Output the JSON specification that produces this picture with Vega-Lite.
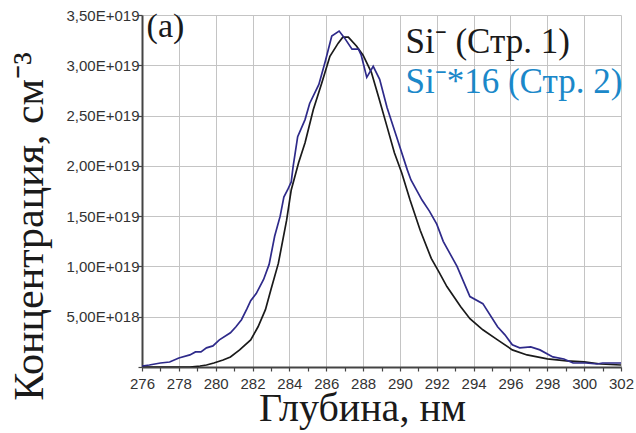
{
  "$schema": "https://vega.github.io/schema/vega-lite/v6.json",
  "autosize": "none",
  "width": 479,
  "height": 352,
  "padding": {"left": 142, "top": 15, "right": 15, "bottom": 66},
  "background": "white",
  "config": {
    "view": {"stroke": null},
    "axisX": {
      "labelFont": "Liberation Sans", "labelFontSize": 15, "labelColor": "#333333",
      "labelPadding": 5, "labelFlush": false, "labelOverlap": false,
      "tickSize": 4, "tickColor": "#444444", "tickWidth": 1.2,
      "domainColor": "#444444", "domainWidth": 2,
      "gridColor": "#c4c4c4", "gridWidth": 1,
      "titleFont": "Liberation Serif", "titleFontSize": 40, "titleFontWeight": "normal", "titleColor": "#1a1a1a"
    },
    "axisY": {
      "labelFont": "Liberation Sans", "labelFontSize": 15, "labelColor": "#333333",
      "labelPadding": -1, "labelFlush": false, "labelOverlap": false,
      "tickSize": 4, "tickColor": "#444444", "tickWidth": 1.2,
      "domainColor": "#444444", "domainWidth": 2,
      "gridColor": "#c4c4c4", "gridWidth": 1,
      "titleFont": "Liberation Serif", "titleFontSize": 42, "titleFontWeight": "normal", "titleColor": "#1a1a1a"
    }
  },
  "datasets": {
    "profiles": [
      {"depth": 276.0, "conc": 0.0, "series": "Стр. 1"},
      {"depth": 277.0, "conc": 0.0, "series": "Стр. 1"},
      {"depth": 278.0, "conc": 0.0, "series": "Стр. 1"},
      {"depth": 278.6, "conc": 0.0, "series": "Стр. 1"},
      {"depth": 279.15, "conc": 1e17, "series": "Стр. 1"},
      {"depth": 279.5, "conc": 2e17, "series": "Стр. 1"},
      {"depth": 279.9, "conc": 4e17, "series": "Стр. 1"},
      {"depth": 280.4, "conc": 7e17, "series": "Стр. 1"},
      {"depth": 280.8, "conc": 1.0e18, "series": "Стр. 1"},
      {"depth": 281.3, "conc": 1.7e18, "series": "Стр. 1"},
      {"depth": 281.9, "conc": 2.7e18, "series": "Стр. 1"},
      {"depth": 282.3, "conc": 4.0e18, "series": "Стр. 1"},
      {"depth": 282.7, "conc": 5.7e18, "series": "Стр. 1"},
      {"depth": 283.0, "conc": 7.7e18, "series": "Стр. 1"},
      {"depth": 283.4, "conc": 1.03e19, "series": "Стр. 1"},
      {"depth": 283.85, "conc": 1.46e19, "series": "Стр. 1"},
      {"depth": 284.1, "conc": 1.76e19, "series": "Стр. 1"},
      {"depth": 284.5, "conc": 2.03e19, "series": "Стр. 1"},
      {"depth": 284.85, "conc": 2.23e19, "series": "Стр. 1"},
      {"depth": 285.3, "conc": 2.56e19, "series": "Стр. 1"},
      {"depth": 285.75, "conc": 2.82e19, "series": "Стр. 1"},
      {"depth": 286.2, "conc": 3.09e19, "series": "Стр. 1"},
      {"depth": 286.65, "conc": 3.22e19, "series": "Стр. 1"},
      {"depth": 286.9, "conc": 3.28e19, "series": "Стр. 1"},
      {"depth": 287.2, "conc": 3.28e19, "series": "Стр. 1"},
      {"depth": 287.65, "conc": 3.19e19, "series": "Стр. 1"},
      {"depth": 288.0, "conc": 3.1e19, "series": "Стр. 1"},
      {"depth": 288.45, "conc": 2.93e19, "series": "Стр. 1"},
      {"depth": 288.85, "conc": 2.68e19, "series": "Стр. 1"},
      {"depth": 289.3, "conc": 2.39e19, "series": "Стр. 1"},
      {"depth": 289.7, "conc": 2.13e19, "series": "Стр. 1"},
      {"depth": 290.1, "conc": 1.93e19, "series": "Стр. 1"},
      {"depth": 290.55, "conc": 1.66e19, "series": "Стр. 1"},
      {"depth": 291.1, "conc": 1.36e19, "series": "Стр. 1"},
      {"depth": 291.7, "conc": 1.08e19, "series": "Стр. 1"},
      {"depth": 292.1, "conc": 9.5e18, "series": "Стр. 1"},
      {"depth": 292.55, "conc": 8.0e18, "series": "Стр. 1"},
      {"depth": 293.3, "conc": 6.0e18, "series": "Стр. 1"},
      {"depth": 293.8, "conc": 4.8e18, "series": "Стр. 1"},
      {"depth": 294.5, "conc": 3.7e18, "series": "Стр. 1"},
      {"depth": 295.3, "conc": 2.7e18, "series": "Стр. 1"},
      {"depth": 296.1, "conc": 1.7e18, "series": "Стр. 1"},
      {"depth": 296.9, "conc": 1.2e18, "series": "Стр. 1"},
      {"depth": 298.0, "conc": 8e17, "series": "Стр. 1"},
      {"depth": 299.05, "conc": 6e17, "series": "Стр. 1"},
      {"depth": 300.0, "conc": 5e17, "series": "Стр. 1"},
      {"depth": 300.9, "conc": 3e17, "series": "Стр. 1"},
      {"depth": 302.0, "conc": 2e17, "series": "Стр. 1"},

      {"depth": 276.0, "conc": 1e17, "series": "Стр. 2"},
      {"depth": 276.4, "conc": 2e17, "series": "Стр. 2"},
      {"depth": 277.0, "conc": 4e17, "series": "Стр. 2"},
      {"depth": 277.5, "conc": 5e17, "series": "Стр. 2"},
      {"depth": 278.0, "conc": 9e17, "series": "Стр. 2"},
      {"depth": 278.6, "conc": 1.2e18, "series": "Стр. 2"},
      {"depth": 278.9, "conc": 1.5e18, "series": "Стр. 2"},
      {"depth": 279.2, "conc": 1.5e18, "series": "Стр. 2"},
      {"depth": 279.5, "conc": 1.9e18, "series": "Стр. 2"},
      {"depth": 279.85, "conc": 2.1e18, "series": "Стр. 2"},
      {"depth": 280.2, "conc": 2.7e18, "series": "Стр. 2"},
      {"depth": 280.8, "conc": 3.4e18, "series": "Стр. 2"},
      {"depth": 281.1, "conc": 4.0e18, "series": "Стр. 2"},
      {"depth": 281.4, "conc": 4.7e18, "series": "Стр. 2"},
      {"depth": 281.7, "conc": 5.8e18, "series": "Стр. 2"},
      {"depth": 281.9, "conc": 6.6e18, "series": "Стр. 2"},
      {"depth": 282.2, "conc": 7.3e18, "series": "Стр. 2"},
      {"depth": 282.6, "conc": 8.7e18, "series": "Стр. 2"},
      {"depth": 282.9, "conc": 1.02e19, "series": "Стр. 2"},
      {"depth": 283.2, "conc": 1.3e19, "series": "Стр. 2"},
      {"depth": 283.5, "conc": 1.5e19, "series": "Стр. 2"},
      {"depth": 283.7, "conc": 1.69e19, "series": "Стр. 2"},
      {"depth": 283.9, "conc": 1.76e19, "series": "Стр. 2"},
      {"depth": 284.1, "conc": 1.84e19, "series": "Стр. 2"},
      {"depth": 284.2, "conc": 1.99e19, "series": "Стр. 2"},
      {"depth": 284.45, "conc": 2.29e19, "series": "Стр. 2"},
      {"depth": 284.85, "conc": 2.46e19, "series": "Стр. 2"},
      {"depth": 285.1, "conc": 2.62e19, "series": "Стр. 2"},
      {"depth": 285.6, "conc": 2.81e19, "series": "Стр. 2"},
      {"depth": 285.95, "conc": 3.04e19, "series": "Стр. 2"},
      {"depth": 286.3, "conc": 3.29e19, "series": "Стр. 2"},
      {"depth": 286.7, "conc": 3.34e19, "series": "Стр. 2"},
      {"depth": 287.0, "conc": 3.27e19, "series": "Стр. 2"},
      {"depth": 287.4, "conc": 3.16e19, "series": "Стр. 2"},
      {"depth": 287.75, "conc": 3.16e19, "series": "Стр. 2"},
      {"depth": 287.9, "conc": 3.1e19, "series": "Стр. 2"},
      {"depth": 288.2, "conc": 2.88e19, "series": "Стр. 2"},
      {"depth": 288.55, "conc": 2.99e19, "series": "Стр. 2"},
      {"depth": 288.9, "conc": 2.86e19, "series": "Стр. 2"},
      {"depth": 289.3, "conc": 2.58e19, "series": "Стр. 2"},
      {"depth": 289.8, "conc": 2.3e19, "series": "Стр. 2"},
      {"depth": 290.4, "conc": 1.96e19, "series": "Стр. 2"},
      {"depth": 290.6, "conc": 1.86e19, "series": "Стр. 2"},
      {"depth": 291.2, "conc": 1.66e19, "series": "Стр. 2"},
      {"depth": 291.6, "conc": 1.55e19, "series": "Стр. 2"},
      {"depth": 292.0, "conc": 1.42e19, "series": "Стр. 2"},
      {"depth": 292.35, "conc": 1.25e19, "series": "Стр. 2"},
      {"depth": 292.8, "conc": 1.1e19, "series": "Стр. 2"},
      {"depth": 293.1, "conc": 1.0e19, "series": "Стр. 2"},
      {"depth": 293.8, "conc": 7.0e18, "series": "Стр. 2"},
      {"depth": 294.5, "conc": 6.3e18, "series": "Стр. 2"},
      {"depth": 295.3, "conc": 4.0e18, "series": "Стр. 2"},
      {"depth": 295.7, "conc": 3.2e18, "series": "Стр. 2"},
      {"depth": 296.1, "conc": 2.2e18, "series": "Стр. 2"},
      {"depth": 296.5, "conc": 1.9e18, "series": "Стр. 2"},
      {"depth": 297.1, "conc": 2.0e18, "series": "Стр. 2"},
      {"depth": 297.6, "conc": 1.7e18, "series": "Стр. 2"},
      {"depth": 298.3, "conc": 1.0e18, "series": "Стр. 2"},
      {"depth": 298.9, "conc": 8e17, "series": "Стр. 2"},
      {"depth": 299.4, "conc": 4e17, "series": "Стр. 2"},
      {"depth": 300.1, "conc": 4e17, "series": "Стр. 2"},
      {"depth": 300.7, "conc": 3e17, "series": "Стр. 2"},
      {"depth": 301.0, "conc": 4e17, "series": "Стр. 2"},
      {"depth": 302.0, "conc": 4e17, "series": "Стр. 2"}
    ]
  },
  "resolve": {"axis": {"x": "independent"}},
  "layer": [
    {
      "data": {"name": "profiles"},
      "mark": {"type": "line", "strokeWidth": 1.7, "clip": true},
      "encoding": {
        "x": {
          "field": "depth", "type": "quantitative",
          "scale": {"domain": [276, 302], "nice": false, "zero": false},
          "axis": {
            "title": "Глубина, нм",
            "values": [276, 278, 280, 282, 284, 286, 288, 290, 292, 294, 296, 298, 300, 302],
            "labelFontSize": 15, "labelFont": "Liberation Sans", "labelOverlap": false,
            "titleBaseline": "alphabetic", "titleAnchor": "middle", "titleX": 220, "titleY": 53
          }
        },
        "y": {
          "field": "conc", "type": "quantitative",
          "scale": {"domain": [0, 3.5e19], "nice": false},
          "axis": {
            "title": "Концентрация, см⁻³",
            "values": [0, 2.5e18, 5e18, 7.5e18, 1e19, 1.25e19, 1.5e19, 1.75e19, 2e19, 2.25e19, 2.5e19, 2.75e19, 3e19, 3.25e19, 3.5e19],
            "labelExpr": "(abs(datum.value/5e18 - round(datum.value/5e18)) > 0.01 || datum.value == 0) ? '' : replace(format(datum.value/pow(10, floor(log(datum.value)/LN10 + 1e-9)), '.2f'), '.', ',') + 'E+0' + floor(log(datum.value)/LN10 + 1e-9)",
            "gridOpacity": {"condition": {"test": "abs(datum.value/5e18 - round(datum.value/5e18)) > 0.01", "value": 0}, "value": 1},
            "titleAngle": -90, "titleBaseline": "alphabetic", "titleAnchor": "middle", "titleX": -100, "titleY": 211
          }
        },
        "color": {
          "field": "series", "type": "nominal",
          "scale": {"domain": ["Стр. 1", "Стр. 2"], "range": ["#1a1a1a", "#2e2a8a"]},
          "legend": null
        },
        "order": {"field": "depth", "type": "quantitative"}
      }
    },
    {
      "data": {"values": [{"label": "Si⁻ (Стр. 1)", "depth": 290.3, "conc": 3.12e19}]},
      "mark": {"type": "text", "font": "Liberation Serif", "fontSize": 35, "align": "left", "baseline": "alphabetic", "color": "#1a1a1a"},
      "encoding": {"x": {"field": "depth", "type": "quantitative", "axis": null}, "y": {"field": "conc", "type": "quantitative"}, "text": {"field": "label"}}
    },
    {
      "data": {"values": [{"label": "Si⁻*16 (Стр. 2)", "depth": 290.3, "conc": 2.72e19}]},
      "mark": {"type": "text", "font": "Liberation Serif", "fontSize": 35, "align": "left", "baseline": "alphabetic", "color": "#1b88c9"},
      "encoding": {"x": {"field": "depth", "type": "quantitative", "axis": null}, "y": {"field": "conc", "type": "quantitative"}, "text": {"field": "label"}}
    },
    {
      "data": {"values": [{"label": "(a)", "depth": 276.25, "conc": 3.28e19}]},
      "mark": {"type": "text", "font": "Liberation Serif", "fontSize": 34, "align": "left", "baseline": "alphabetic", "color": "#1a1a1a"},
      "encoding": {"x": {"field": "depth", "type": "quantitative", "axis": null}, "y": {"field": "conc", "type": "quantitative"}, "text": {"field": "label"}}
    },
    {
      "data": {"values": [{"minor": 277}, {"minor": 279}, {"minor": 281}, {"minor": 283}, {"minor": 285}, {"minor": 287}, {"minor": 289}, {"minor": 291}, {"minor": 293}, {"minor": 295}, {"minor": 297}, {"minor": 299}, {"minor": 301}]},
      "mark": {"type": "point", "opacity": 0},
      "encoding": {
        "x": {
          "field": "minor", "type": "quantitative",
          "axis": {
            "orient": "bottom", "title": null, "values": [277, 279, 281, 283, 285, 287, 289, 291, 293, 295, 297, 299, 301],
            "labels": false, "grid": false, "domain": false
          }
        }
      }
    }
  ]
}
